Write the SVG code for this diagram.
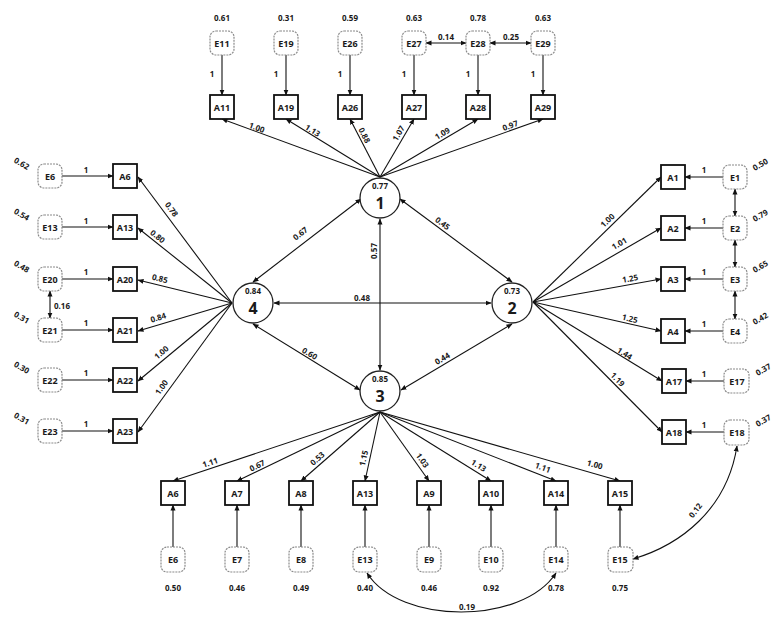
<svg xmlns="http://www.w3.org/2000/svg" width="777" height="619" viewBox="0 0 777 619">
<defs>
<marker id="ah" markerWidth="6" markerHeight="6" refX="5.5" refY="3" orient="auto-start-reverse" markerUnits="userSpaceOnUse">
<path d="M0,0.5 L6,3 L0,5.5 z" fill="#111"/>
</marker>
<style>
text{font-family:"Noto Sans","DejaVu Sans",sans-serif;font-weight:bold;fill:#1a1a1a;text-anchor:middle;dominant-baseline:central}
.t{font-size:8px}
.n{font-size:9px}
.big{font-size:16px}
.obs{fill:#fff;stroke:#111;stroke-width:1.8}
.err{fill:#fff;stroke:#8a8a8a;stroke-width:1.2;stroke-dasharray:2 1}
.lat{fill:#fff;stroke:#222;stroke-width:1.3}
.c line,.c path{stroke:#111;stroke-width:1.1;fill:none;marker-end:url(#ah)}
.c .d{marker-start:url(#ah)}
</style>
</defs>
<rect width="777" height="619" fill="#fff"/>

<g id="connectors" class="c">
<line x1="222" y1="55" x2="222" y2="95"/>
<line x1="286" y1="55" x2="286" y2="95"/>
<line x1="350" y1="55" x2="350" y2="95"/>
<line x1="414" y1="55" x2="414" y2="95"/>
<line x1="478" y1="55" x2="478" y2="95"/>
<line x1="543" y1="55" x2="543" y2="95"/>
<line class="d" x1="426" y1="43" x2="466" y2="43"/>
<line class="d" x1="490" y1="43" x2="531" y2="43"/>
<line x1="380" y1="177" x2="222" y2="119"/>
<line x1="380" y1="177" x2="286" y2="119"/>
<line x1="380" y1="177" x2="350" y2="119"/>
<line x1="380" y1="177" x2="414" y2="119"/>
<line x1="380" y1="177" x2="478" y2="119"/>
<line x1="380" y1="177" x2="543" y2="119"/>
<line x1="62" y1="176" x2="113" y2="176"/>
<line x1="62" y1="227" x2="113" y2="227"/>
<line x1="62" y1="279" x2="113" y2="279"/>
<line x1="62" y1="330" x2="113" y2="330"/>
<line x1="62" y1="380" x2="113" y2="380"/>
<line x1="62" y1="431" x2="113" y2="431"/>
<line class="d" x1="50" y1="291" x2="50" y2="318"/>
<line x1="232" y1="303" x2="138" y2="177"/>
<line x1="232" y1="303" x2="138" y2="228"/>
<line x1="232" y1="303" x2="138" y2="280"/>
<line x1="232" y1="303" x2="138" y2="331"/>
<line x1="232" y1="303" x2="138" y2="381"/>
<line x1="232" y1="303" x2="138" y2="432"/>
<line x1="723" y1="177" x2="685" y2="177"/>
<line x1="723" y1="228" x2="685" y2="228"/>
<line x1="723" y1="279" x2="685" y2="279"/>
<line x1="723" y1="331" x2="685" y2="331"/>
<line x1="724" y1="381" x2="686" y2="381"/>
<line x1="724" y1="432" x2="686" y2="432"/>
<line class="d" x1="735" y1="189" x2="735" y2="216"/>
<line class="d" x1="735" y1="240" x2="735" y2="267"/>
<line class="d" x1="735" y1="291" x2="735" y2="319"/>
<line x1="533" y1="302" x2="661" y2="177"/>
<line x1="533" y1="302" x2="661" y2="228"/>
<line x1="533" y1="302" x2="661" y2="279"/>
<line x1="533" y1="302" x2="661" y2="331"/>
<line x1="533" y1="302" x2="662" y2="381"/>
<line x1="533" y1="302" x2="662" y2="432"/>
<line x1="173" y1="547" x2="173" y2="505"/>
<line x1="237" y1="547" x2="237" y2="505"/>
<line x1="301" y1="547" x2="301" y2="505"/>
<line x1="365" y1="547" x2="365" y2="505"/>
<line x1="429" y1="547" x2="429" y2="505"/>
<line x1="491" y1="547" x2="491" y2="505"/>
<line x1="556" y1="547" x2="556" y2="505"/>
<line x1="620" y1="547" x2="620" y2="505"/>
<line x1="380" y1="412" x2="173" y2="481"/>
<line x1="380" y1="412" x2="237" y2="481"/>
<line x1="380" y1="412" x2="301" y2="481"/>
<line x1="380" y1="412" x2="365" y2="481"/>
<line x1="380" y1="412" x2="429" y2="481"/>
<line x1="380" y1="412" x2="491" y2="481"/>
<line x1="380" y1="412" x2="556" y2="481"/>
<line x1="380" y1="412" x2="620" y2="481"/>
<path class="d" d="M367 573 C400 625 522 625 556 573"/>
<path class="d" d="M633 559 C680 545 727 510 737 446"/>
<line class="d" x1="253" y1="282" x2="361" y2="199"/>
<line class="d" x1="400" y1="199" x2="512" y2="282"/>
<line class="d" x1="253" y1="324" x2="360" y2="390"/>
<line class="d" x1="401" y1="390" x2="512" y2="324"/>
<line class="d" x1="274" y1="303" x2="491" y2="303"/>
<line class="d" x1="380" y1="219" x2="380" y2="370"/>
</g>

<g id="edge-labels">
<text class="t" x="212" y="73">1</text>
<text class="t" x="276" y="73">1</text>
<text class="t" x="340" y="73">1</text>
<text class="t" x="404" y="73">1</text>
<text class="t" x="468" y="73">1</text>
<text class="t" x="533" y="73">1</text>
<text class="t" x="446" y="36">0.14</text>
<text class="t" x="511" y="36">0.25</text>
<text class="t" transform="translate(257,127) rotate(20)">1.00</text>
<text class="t" transform="translate(313,130) rotate(32)">1.13</text>
<text class="t" transform="translate(365,135) rotate(63)">0.88</text>
<text class="t" transform="translate(398,133) rotate(-60)">1.07</text>
<text class="t" transform="translate(442,133) rotate(-31)">1.09</text>
<text class="t" transform="translate(510,125) rotate(-20)">0.97</text>
<text class="t" x="86" y="169">1</text>
<text class="t" x="86" y="220">1</text>
<text class="t" x="86" y="271">1</text>
<text class="t" x="86" y="322">1</text>
<text class="t" x="86" y="372">1</text>
<text class="t" x="86" y="423">1</text>
<text class="t" x="62" y="305">0.16</text>
<text class="t" transform="translate(172,209) rotate(53)">0.78</text>
<text class="t" transform="translate(158,236) rotate(39)">0.80</text>
<text class="t" transform="translate(160,278) rotate(14)">0.85</text>
<text class="t" transform="translate(158,317) rotate(-17)">0.84</text>
<text class="t" transform="translate(161,352) rotate(-40)">1.00</text>
<text class="t" transform="translate(161,387) rotate(-54)">1.00</text>
<text class="t" x="704" y="169">1</text>
<text class="t" x="704" y="220">1</text>
<text class="t" x="704" y="271">1</text>
<text class="t" x="704" y="323">1</text>
<text class="t" x="704" y="373">1</text>
<text class="t" x="704" y="424">1</text>
<text class="t" transform="translate(607,220) rotate(-44)">1.00</text>
<text class="t" transform="translate(619,243) rotate(-30)">1.01</text>
<text class="t" transform="translate(630,278) rotate(-10)">1.25</text>
<text class="t" transform="translate(630,318) rotate(13)">1.25</text>
<text class="t" transform="translate(625,353) rotate(32)">1.44</text>
<text class="t" transform="translate(618,379) rotate(45)">1.19</text>
<text class="t" transform="translate(210,462) rotate(-18)">1.11</text>
<text class="t" transform="translate(257,465) rotate(-26)">0.67</text>
<text class="t" transform="translate(317,458) rotate(-41)">0.53</text>
<text class="t" transform="translate(363,458) rotate(-78)">1.15</text>
<text class="t" transform="translate(423,460) rotate(55)">1.03</text>
<text class="t" transform="translate(479,465) rotate(32)">1.13</text>
<text class="t" transform="translate(543,467) rotate(21)">1.11</text>
<text class="t" transform="translate(595,464) rotate(16)">1.00</text>
<text class="t" x="467" y="606">0.19</text>
<text class="t" transform="translate(695,510) rotate(-52)">0.12</text>
<text class="t" transform="translate(300,233) rotate(-38)">0.67</text>
<text class="t" transform="translate(443,223) rotate(37)">0.45</text>
<text class="t" transform="translate(310,353) rotate(31)">0.60</text>
<text class="t" transform="translate(442,358) rotate(-31)">0.44</text>
<text class="t" x="362" y="297">0.48</text>
<text class="t" transform="translate(373,251) rotate(-90)">0.57</text>
</g>

<g id="F1"><circle class="lat" cx="380" cy="198" r="20"/><text class="t" x="380" y="185">0.77</text><text class="big" x="380" y="203">1</text></g>
<g id="F2"><circle class="lat" cx="512" cy="303" r="20"/><text class="t" x="512" y="290">0.73</text><text class="big" x="512" y="308">2</text></g>
<g id="F3"><circle class="lat" cx="380" cy="391" r="20"/><text class="t" x="380" y="378">0.85</text><text class="big" x="380" y="396">3</text></g>
<g id="F4"><circle class="lat" cx="253" cy="303" r="20"/><text class="t" x="253" y="290">0.84</text><text class="big" x="253" y="308">4</text></g>

<g id="E11"><rect class="err" x="210" y="31" width="24" height="24" rx="6"/><text class="n" x="222" y="43">E11</text><text class="t" x="222" y="17">0.61</text></g>
<g id="E19"><rect class="err" x="274" y="31" width="24" height="24" rx="6"/><text class="n" x="286" y="43">E19</text><text class="t" x="286" y="17">0.31</text></g>
<g id="E26"><rect class="err" x="338" y="31" width="24" height="24" rx="6"/><text class="n" x="350" y="43">E26</text><text class="t" x="350" y="17">0.59</text></g>
<g id="E27"><rect class="err" x="402" y="31" width="24" height="24" rx="6"/><text class="n" x="414" y="43">E27</text><text class="t" x="414" y="17">0.63</text></g>
<g id="E28"><rect class="err" x="466" y="31" width="24" height="24" rx="6"/><text class="n" x="478" y="43">E28</text><text class="t" x="478" y="17">0.78</text></g>
<g id="E29"><rect class="err" x="531" y="31" width="24" height="24" rx="6"/><text class="n" x="543" y="43">E29</text><text class="t" x="543" y="17">0.63</text></g>
<g id="A11"><rect class="obs" x="210" y="95" width="24" height="24"/><text class="n" x="222" y="107">A11</text></g>
<g id="A19"><rect class="obs" x="274" y="95" width="24" height="24"/><text class="n" x="286" y="107">A19</text></g>
<g id="A26"><rect class="obs" x="338" y="95" width="24" height="24"/><text class="n" x="350" y="107">A26</text></g>
<g id="A27"><rect class="obs" x="402" y="95" width="24" height="24"/><text class="n" x="414" y="107">A27</text></g>
<g id="A28"><rect class="obs" x="466" y="95" width="24" height="24"/><text class="n" x="478" y="107">A28</text></g>
<g id="A29"><rect class="obs" x="531" y="95" width="24" height="24"/><text class="n" x="543" y="107">A29</text></g>

<g id="E6L"><rect class="err" x="38" y="164" width="24" height="24" rx="6"/><text class="n" x="50" y="176">E6</text><text class="t" transform="translate(22,163) rotate(30)">0.62</text></g>
<g id="E13L"><rect class="err" x="38" y="215" width="24" height="24" rx="6"/><text class="n" x="50" y="227">E13</text><text class="t" transform="translate(22,214) rotate(30)">0.54</text></g>
<g id="E20"><rect class="err" x="38" y="267" width="24" height="24" rx="6"/><text class="n" x="50" y="279">E20</text><text class="t" transform="translate(22,266) rotate(30)">0.48</text></g>
<g id="E21"><rect class="err" x="38" y="318" width="24" height="24" rx="6"/><text class="n" x="50" y="330">E21</text><text class="t" transform="translate(22,317) rotate(30)">0.31</text></g>
<g id="E22"><rect class="err" x="38" y="368" width="24" height="24" rx="6"/><text class="n" x="50" y="380">E22</text><text class="t" transform="translate(22,367) rotate(30)">0.30</text></g>
<g id="E23"><rect class="err" x="38" y="419" width="24" height="24" rx="6"/><text class="n" x="50" y="431">E23</text><text class="t" transform="translate(22,418) rotate(30)">0.31</text></g>
<g id="A6L"><rect class="obs" x="113" y="164" width="24" height="24"/><text class="n" x="125" y="176">A6</text></g>
<g id="A13L"><rect class="obs" x="113" y="215" width="24" height="24"/><text class="n" x="125" y="227">A13</text></g>
<g id="A20"><rect class="obs" x="113" y="267" width="24" height="24"/><text class="n" x="125" y="279">A20</text></g>
<g id="A21"><rect class="obs" x="113" y="318" width="24" height="24"/><text class="n" x="125" y="330">A21</text></g>
<g id="A22"><rect class="obs" x="113" y="368" width="24" height="24"/><text class="n" x="125" y="380">A22</text></g>
<g id="A23"><rect class="obs" x="113" y="419" width="24" height="24"/><text class="n" x="125" y="431">A23</text></g>

<g id="A1"><rect class="obs" x="661" y="165" width="24" height="24"/><text class="n" x="673" y="177">A1</text></g>
<g id="A2"><rect class="obs" x="661" y="216" width="24" height="24"/><text class="n" x="673" y="228">A2</text></g>
<g id="A3"><rect class="obs" x="661" y="267" width="24" height="24"/><text class="n" x="673" y="279">A3</text></g>
<g id="A4"><rect class="obs" x="661" y="319" width="24" height="24"/><text class="n" x="673" y="331">A4</text></g>
<g id="A17"><rect class="obs" x="662" y="369" width="24" height="24"/><text class="n" x="674" y="381">A17</text></g>
<g id="A18"><rect class="obs" x="662" y="420" width="24" height="24"/><text class="n" x="674" y="432">A18</text></g>
<g id="E1"><rect class="err" x="723" y="165" width="24" height="24" rx="6"/><text class="n" x="735" y="177">E1</text><text class="t" transform="translate(760,164) rotate(-30)">0.50</text></g>
<g id="E2"><rect class="err" x="723" y="216" width="24" height="24" rx="6"/><text class="n" x="735" y="228">E2</text><text class="t" transform="translate(760,215) rotate(-30)">0.79</text></g>
<g id="E3"><rect class="err" x="723" y="267" width="24" height="24" rx="6"/><text class="n" x="735" y="279">E3</text><text class="t" transform="translate(760,266) rotate(-30)">0.65</text></g>
<g id="E4"><rect class="err" x="723" y="319" width="24" height="24" rx="6"/><text class="n" x="735" y="331">E4</text><text class="t" transform="translate(760,318) rotate(-30)">0.42</text></g>
<g id="E17"><rect class="err" x="724" y="369" width="25" height="24" rx="6"/><text class="n" x="737" y="381">E17</text><text class="t" transform="translate(763,369) rotate(-30)">0.37</text></g>
<g id="E18"><rect class="err" x="724" y="420" width="25" height="25" rx="6"/><text class="n" x="737" y="432">E18</text><text class="t" transform="translate(763,420) rotate(-30)">0.37</text></g>

<g id="A6B"><rect class="obs" x="161" y="481" width="24" height="24"/><text class="n" x="173" y="493">A6</text></g>
<g id="A7"><rect class="obs" x="225" y="481" width="24" height="24"/><text class="n" x="237" y="493">A7</text></g>
<g id="A8"><rect class="obs" x="289" y="481" width="24" height="24"/><text class="n" x="301" y="493">A8</text></g>
<g id="A13B"><rect class="obs" x="353" y="481" width="24" height="24"/><text class="n" x="365" y="493">A13</text></g>
<g id="A9"><rect class="obs" x="417" y="481" width="24" height="24"/><text class="n" x="429" y="493">A9</text></g>
<g id="A10"><rect class="obs" x="479" y="481" width="24" height="24"/><text class="n" x="491" y="493">A10</text></g>
<g id="A14"><rect class="obs" x="544" y="481" width="24" height="24"/><text class="n" x="556" y="493">A14</text></g>
<g id="A15"><rect class="obs" x="608" y="481" width="24" height="24"/><text class="n" x="620" y="493">A15</text></g>
<g id="E6B"><rect class="err" x="161" y="547" width="24" height="25" rx="6"/><text class="n" x="173" y="559">E6</text><text class="t" x="173" y="587">0.50</text></g>
<g id="E7"><rect class="err" x="225" y="547" width="24" height="25" rx="6"/><text class="n" x="237" y="559">E7</text><text class="t" x="237" y="587">0.46</text></g>
<g id="E8"><rect class="err" x="289" y="547" width="24" height="25" rx="6"/><text class="n" x="301" y="559">E8</text><text class="t" x="301" y="587">0.49</text></g>
<g id="E13B"><rect class="err" x="353" y="547" width="24" height="25" rx="6"/><text class="n" x="365" y="559">E13</text><text class="t" x="365" y="587">0.40</text></g>
<g id="E9"><rect class="err" x="417" y="547" width="24" height="25" rx="6"/><text class="n" x="429" y="559">E9</text><text class="t" x="429" y="587">0.46</text></g>
<g id="E10"><rect class="err" x="479" y="547" width="24" height="25" rx="6"/><text class="n" x="491" y="559">E10</text><text class="t" x="491" y="587">0.92</text></g>
<g id="E14"><rect class="err" x="544" y="547" width="24" height="25" rx="6"/><text class="n" x="556" y="559">E14</text><text class="t" x="556" y="587">0.78</text></g>
<g id="E15"><rect class="err" x="608" y="547" width="25" height="25" rx="6"/><text class="n" x="620" y="559">E15</text><text class="t" x="620" y="587">0.75</text></g>
</svg>
